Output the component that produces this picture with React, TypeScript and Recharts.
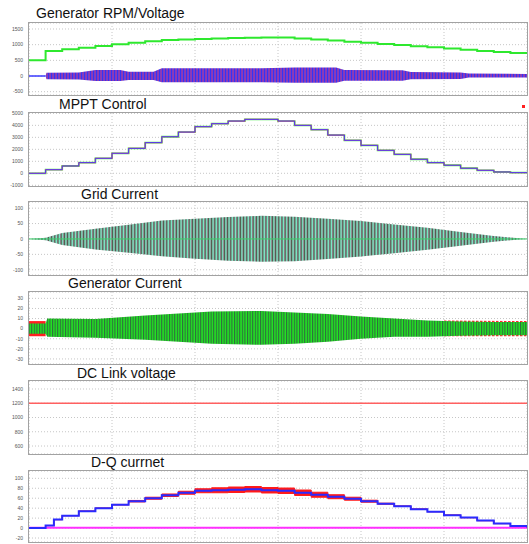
import React from 'react';
import { ComposedChart, Line, Area, XAxis, YAxis, CartesianGrid } from 'recharts';

// time axis (arbitrary units, 6 divisions of 10)
const STEP_T = [0, 2, 4, 6, 8, 10, 12, 14, 16, 18, 20, 22, 24, 26, 28, 30, 32, 34, 36, 38, 40, 42, 44, 46, 48, 50, 52, 54, 56, 58, 60];
const X_TICKS = [10, 20, 30, 40, 50];

// Generator RPM / voltage
const rpmValues = [500, 800, 850, 905, 960, 1010, 1060, 1105, 1145, 1165, 1180, 1195, 1210, 1220, 1228, 1225, 1200, 1165, 1130, 1095, 1060, 1025, 990, 950, 915, 875, 835, 800, 765, 735, 705];
const voltT = [2, 2.1, 6, 8, 11, 12, 15, 16, 28, 32, 37, 38, 45, 46, 52, 53, 60];
const voltHi = [0, 105, 110, 190, 190, 135, 135, 245, 250, 275, 275, 190, 180, 130, 110, 80, 65];
const voltLo = [0, -105, -110, -160, -160, -130, -130, -200, -200, -215, -215, -150, -150, -100, -95, -50, -45];
const voltIdleT = [0, 2];
const voltIdle = [0, 0];
const rpmTicks = [-500, 0, 500, 1000, 1500];

// MPPT control
const mpptValues = [0, 300, 610, 890, 1250, 1670, 2080, 2560, 3050, 3440, 3890, 4140, 4360, 4500, 4500, 4360, 4000, 3640, 3190, 2750, 2330, 1915, 1580, 1170, 890, 670, 420, 250, 110, 55, 50];
const mpptTicks = [-1000, 0, 1000, 2000, 3000, 4000, 5000];

// Grid current envelope
const gridT = [0, 2, 4, 8, 12, 16, 20, 24, 28, 32, 36, 40, 44, 48, 52, 56, 59, 60];
const gridHi = [0, 4, 19, 33, 46, 60, 66, 71, 75, 72, 66, 58, 47, 36, 23, 10, 2, 0];
const gridLo = [0, -4, -20, -34, -45, -56, -64, -71, -74, -72, -65, -57, -46, -35, -22, -9, -2, 0];
const gridBaseT = [0, 60];
const gridBase = [0, 0];
const gridTicks = [-100, -50, 0, 50, 100];

// Generator current envelope
const genT = [0, 2, 2.2, 8, 14, 18, 22, 28, 32, 36, 40, 44, 48, 52, 56, 60];
const genHi = [5, 5, 10, 9.5, 13, 15, 17, 17.5, 16, 14.5, 12, 10, 8, 7, 6.5, 6.5];
const genLo = [-5, -5, -8, -9, -11, -13, -15, -16, -15, -13, -10, -8, -8, -7, -6.5, -6.5];
const genRedT = [0, 2];
const genRedHi = [7.5, 7.5];
const genRedLo = [-7.5, -7.5];
const genRedEndT = [50, 60];
const genRedEndHi = [8, 7.5];
const genRedEndLo = [-7.5, -7.5];
const genTicks = [-30, -20, -10, 0, 10, 20, 30];

// DC link voltage
const dcT = [0, 60];
const dcValues = [1200, 1200];
const dcTicks = [600, 800, 1000, 1200, 1400];

// D-Q current
const dqT = [0, 2, 3, 4, 6, 8, 10, 12, 14, 16, 18, 20, 22, 24, 26, 28, 30, 32, 34, 36, 38, 40, 42, 44, 46, 48, 50, 52, 54, 56, 58, 60];
const dqD = [0, 5, 17, 25, 34, 40, 47, 54, 60, 66, 71, 75, 76, 77, 78, 76, 75, 71, 67, 63, 59, 54, 49, 44, 38, 33, 26, 21, 15, 9, 4, 1];
const dqRefHi = [0, 5, 17, 25, 34, 40, 47.5, 55.5, 62, 68.5, 74, 79, 81, 82.5, 83.5, 81.5, 80.5, 76.5, 72, 67, 62, 56, 50, 44.5, 38.5, 33, 26, 21, 15, 9, 4, 1];
const dqRefLo = [0, 5, 17, 25, 34, 40, 46.5, 52.5, 58, 63.5, 68, 71, 71, 71.5, 72.5, 70.5, 69.5, 65.5, 62, 59, 56, 52, 48, 43.5, 37.5, 33, 26, 21, 15, 9, 4, 1];
const dqQT = [0, 60];
const dqQ = [0.5, 0.5];
const dqTicks = [-20, 0, 20, 40, 60, 80, 100];

const rows = (ts: number[], vs: number[]) => ts.map((t, i) => ({ t, v: vs[i] }));
const band = (ts: number[], lo: number[], hi: number[]) => ts.map((t, i) => ({ t, r: [lo[i], hi[i]] }));

const FONT = '"Liberation Sans", Arial, sans-serif';
const PLOT_LEFT = 29;
const PLOT_RIGHT = 527;
const PAD = 5;

const Title: React.FC<{ text: string; left: number; baseline: number }> = ({ text, left, baseline }) => (
  <div
    style={{
      position: 'absolute', left, top: baseline - 11.9, fontSize: 14, lineHeight: '14px',
      fontFamily: FONT, color: '#111', whiteSpace: 'nowrap',
    }}
  >
    {text}
  </div>
);

interface PanelProps {
  top: number;
  height: number;
  domain: [number, number];
  ticks: number[];
  children?: React.ReactNode;
}

const Panel: React.FC<PanelProps> = ({ top, height, domain, ticks, children }) => (
  <>
    <div style={{ position: 'absolute', left: 0, top: top - PAD }}>
      <ComposedChart width={529} height={height + 2 * PAD} margin={{ top: PAD, right: 529 - PLOT_RIGHT, bottom: PAD, left: 0 }}>
        <CartesianGrid stroke="#c6c6c6" strokeDasharray="1 2" />
        <XAxis type="number" dataKey="t" domain={[0, 60]} ticks={X_TICKS} hide allowDataOverflow />
        <YAxis
          type="number"
          domain={domain}
          ticks={ticks}
          interval={0}
          width={PLOT_LEFT}
          allowDataOverflow
          axisLine={false}
          tickLine={false}
          tickSize={0}
          tickMargin={6}
          tick={{ fontSize: 5, fill: '#555', fontFamily: FONT }}
        />
        {children}
      </ComposedChart>
    </div>
    <div
      style={{
        position: 'absolute', left: PLOT_LEFT - 1, top: top - 1, width: PLOT_RIGHT - PLOT_LEFT + 2,
        height: height + 2, border: '1.5px solid #a2a2a2', boxSizing: 'border-box', pointerEvents: 'none',
      }}
    />
  </>
);

const App: React.FC = () => (
  <div style={{ position: 'absolute', left: 0, top: 0, width: 529, height: 544, background: '#fff', overflow: 'hidden' }}>
    <Title text="Generator RPM/Voltage" left={36} baseline={18.3} />
    <Panel top={23} height={72} domain={[-606, 1691]} ticks={rpmTicks}>
      <defs>
        <pattern id="voltStripe" width="3" height="4" patternUnits="userSpaceOnUse">
          <rect x="0" y="0" width="3" height="4" fill="#6a3ad0" />
          <rect x="0" y="0" width="1" height="4" fill="#3434f4" />
          <rect x="1.6" y="0" width="0.9" height="4" fill="#b03a9c" />
        </pattern>
      </defs>
      <Area data={band(voltT, voltLo, voltHi)} dataKey="r" type="linear" stroke="none" fill="url(#voltStripe)" fillOpacity={1} isAnimationActive={false} />
      <Line data={rows(voltIdleT, voltIdle)} dataKey="v" type="linear" stroke="#3a3aff" strokeWidth={1.5} dot={false} isAnimationActive={false} />
      <Line data={rows(STEP_T, rpmValues)} dataKey="v" type="stepAfter" stroke="#2ee82e" strokeWidth={2} dot={false} isAnimationActive={false} />
    </Panel>

    <Title text="MPPT Control" left={59} baseline={108.5} />
    <Panel top={113} height={73} domain={[-1060, 5030]} ticks={mpptTicks}>
      <Line data={rows(STEP_T, mpptValues)} dataKey="v" type="stepAfter" stroke="#4cf04c" strokeWidth={1.8} dot={false} isAnimationActive={false} />
      <Line data={rows(STEP_T, mpptValues)} dataKey="v" type="stepAfter" stroke="#ff6a6a" strokeWidth={1.2} dot={false} isAnimationActive={false} />
      <Line data={rows(STEP_T, mpptValues)} dataKey="v" type="stepAfter" stroke="#3434ff" strokeWidth={0.9} dot={false} isAnimationActive={false} />
    </Panel>
    <div style={{ position: 'absolute', left: 522, top: 105, width: 3, height: 3, background: '#ff2020' }} />

    <Title text="Grid Current" left={81} baseline={199.3} />
    <Panel top={202} height={73} domain={[-117, 120]} ticks={gridTicks}>
      <defs>
        <pattern id="gridStripe" width="3.2" height="4" patternUnits="userSpaceOnUse">
          <rect x="0" y="0" width="3.2" height="4" fill="#4f5548" />
          <rect x="1.1" y="0" width="1.6" height="4" fill="#7eecca" />
          <rect x="2.7" y="0" width="0.5" height="4" fill="#b0809e" />
        </pattern>
      </defs>
      <Line data={rows(gridBaseT, gridBase)} dataKey="v" type="linear" stroke="#3ccf6a" strokeWidth={1} dot={false} isAnimationActive={false} />
      <Area data={band(gridT, gridLo, gridHi)} dataKey="r" type="linear" stroke="none" fill="url(#gridStripe)" fillOpacity={1} isAnimationActive={false} />
    </Panel>

    <Title text="Generator Current" left={68} baseline={288.3} />
    <Panel top={292} height={72} domain={[-35, 36.3]} ticks={genTicks}>
      <defs>
        <pattern id="genStripe" width="2.6" height="4" patternUnits="userSpaceOnUse">
          <rect x="0" y="0" width="2.6" height="4" fill="#22e422" />
          <rect x="0" y="0" width="1.1" height="4" fill="#2f6c3e" />
        </pattern>
        <pattern id="genRedDash" width="4" height="4" patternUnits="userSpaceOnUse">
          <rect x="0" y="0" width="2.5" height="4" fill="#ff2a2a" />
        </pattern>
      </defs>
      <Area data={band(genRedT, genRedLo, genRedHi)} dataKey="r" type="linear" stroke="none" fill="#ff2020" fillOpacity={1} isAnimationActive={false} />
      <Area data={band(genRedEndT, genRedEndLo, genRedEndHi)} dataKey="r" type="linear" stroke="none" fill="url(#genRedDash)" fillOpacity={1} isAnimationActive={false} />
      <Area data={band(genT, genLo, genHi)} dataKey="r" type="linear" stroke="none" fill="url(#genStripe)" fillOpacity={1} isAnimationActive={false} />
    </Panel>

    <Title text="DC Link voltage" left={77} baseline={377.7} />
    <Panel top={381} height={73} domain={[488, 1512]} ticks={dcTicks}>
      <Line data={rows(dcT, dcValues)} dataKey="v" type="linear" stroke="#ff6060" strokeWidth={1.5} dot={false} isAnimationActive={false} />
    </Panel>

    <Title text="D-Q currnet" left={91} baseline={466.7} />
    <Panel top={471} height={71} domain={[-28, 114.7]} ticks={dqTicks}>
      <Line data={rows(dqQT, dqQ)} dataKey="v" type="linear" stroke="#ff30ff" strokeWidth={2} dot={false} isAnimationActive={false} />
      <Area data={band(dqT, dqRefLo, dqRefHi)} dataKey="r" type="stepAfter" stroke="#ff1a1a" strokeWidth={1} fill="#ff1a1a" fillOpacity={1} isAnimationActive={false} />
      <Line data={rows(dqT, dqD)} dataKey="v" type="stepAfter" stroke="#2a2aff" strokeWidth={2} dot={false} isAnimationActive={false} />
    </Panel>
  </div>
);

export default App;
